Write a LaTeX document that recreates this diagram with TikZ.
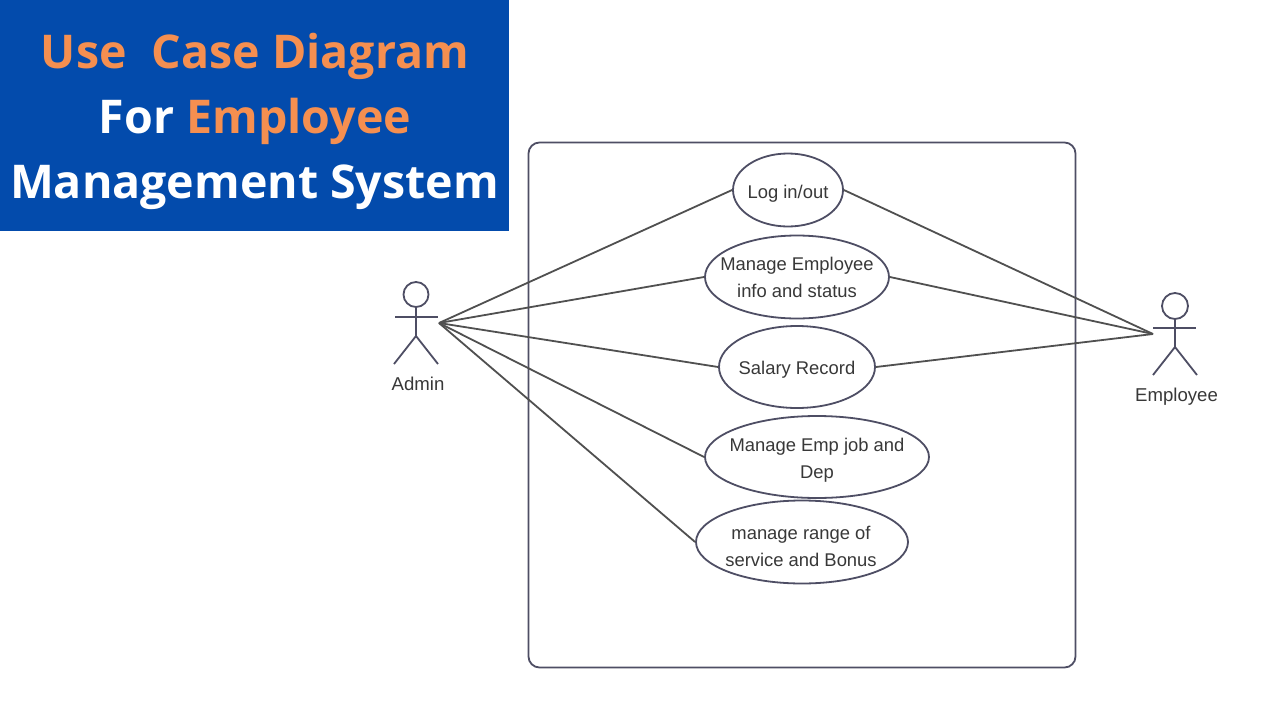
\documentclass[tikz,border=0pt]{standalone}
\usepackage{fontspec}
\setmainfont{Liberation Sans}
\newfontfamily\titlefont{Open Sans}
\usetikzlibrary{shapes.geometric}
\definecolor{bannerblue}{HTML}{034BAC}
\definecolor{titleorange}{HTML}{F58F50}
\definecolor{umlline}{HTML}{4E4E64}
\definecolor{linkline}{HTML}{505050}
\definecolor{labelink}{HTML}{383838}
\tikzset{
  x=1pt,y=-1pt,
  usecase/.style={draw=umlline,line width=1.8pt,ellipse,inner sep=0pt},
  uctext/.style={align=center,font=\fontsize{18.4}{27}\selectfont,text=labelink,inner sep=0pt},
  link/.style={draw=linkline,line width=1.8pt},
  actorline/.style={draw=umlline,line width=1.8pt},
  actorlabel/.style={font=\fontsize{18.6}{22}\selectfont,text=labelink,inner sep=0pt},
  titleline/.style={font=\titlefont\bfseries\fontsize{46.5}{50}\selectfont,text=white,inner sep=0pt,anchor=base}
}
\begin{document}
\begin{tikzpicture}
\useasboundingbox (0,0) rectangle (1280,720);
\fill[white] (0,0) rectangle (1280,720);
\fill[bannerblue] (0,0) rectangle (509,231);
\node[titleline] (t1) at (255,68.5) {\textcolor{titleorange}{Use\hspace{13pt} Case Diagram}};
\node[titleline] (t2) at (255,133) {For \textcolor{titleorange}{Employee}};
\node[titleline] (t3) at (254.5,198) {Management System};
\node[draw=umlline,line width=1.8pt,rounded corners=11pt,minimum width=547pt,minimum height=525pt,inner sep=0pt] (sys) at (802,405) {};
\node[usecase,minimum width=110pt,minimum height=73pt] (uc1) at (788,190) {};
\node[usecase,minimum width=184pt,minimum height=83pt] (uc2) at (797,277) {};
\node[usecase,minimum width=156pt,minimum height=82pt] (uc3) at (797,367) {};
\node[usecase,minimum width=224pt,minimum height=82pt] (uc4) at (817,457) {};
\node[usecase,minimum width=212pt,minimum height=83pt] (uc5) at (802,542) {};
\node[uctext] (uc1t) at (788,194) {Log in/out};
\node[uctext] (uc2t) at (797,277) {Manage Employee\\info and status};
\node[uctext] (uc3t) at (797,370) {Salary Record};
\node[uctext] (uc4t) at (817,460.5) {Manage Emp job and\\Dep};
\node[uctext] (uc5t) at (801,546) {manage range of\\service and Bonus};
% Admin actor
\node[draw=umlline,line width=1.8pt,circle,minimum size=25pt,inner sep=0pt] (ahead) at (416,294.5) {};
\coordinate (ahip) at (416,336);
\coordinate (aarml) at (395,317);
\coordinate (aarmr) at (438,317);
\coordinate (alegl) at (394,364);
\coordinate (alegr) at (438,364);
\coordinate (ahand) at (439,323);
\draw[actorline] (ahead.south) -- (ahip);
\draw[actorline] (aarml) -- (aarmr);
\draw[actorline] (alegl) -- (ahip) -- (alegr);
\node[actorlabel] (alabel) at (418,384) {Admin};
% Employee actor
\node[draw=umlline,line width=1.8pt,circle,minimum size=26pt,inner sep=0pt] (ehead) at (1175,306) {};
\coordinate (ehip) at (1175,347);
\coordinate (earml) at (1153,328);
\coordinate (earmr) at (1196,328);
\coordinate (elegl) at (1153,375);
\coordinate (elegr) at (1197,375);
\coordinate (ehand) at (1153,334);
\draw[actorline] (ehead.south) -- (ehip);
\draw[actorline] (earml) -- (earmr);
\draw[actorline] (elegl) -- (ehip) -- (elegr);
\node[actorlabel] (elabel) at (1176.5,396.5) {Employee};
% links
\draw[link] (ahand) -- (uc1.west);
\draw[link] (ahand) -- (uc2.west);
\draw[link] (ahand) -- (uc3.west);
\draw[link] (ahand) -- (uc4.west);
\draw[link] (ahand) -- (uc5.west);
\draw[link] (ehand) -- (uc1.east);
\draw[link] (ehand) -- (uc2.east);
\draw[link] (ehand) -- (uc3.east);
\end{tikzpicture}
\end{document}
